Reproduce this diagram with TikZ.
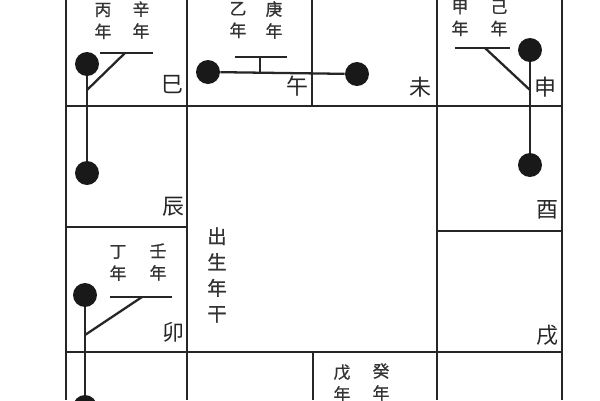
\documentclass[tikz,border=0pt]{standalone}
\usepackage{fontspec}
\newfontfamily\cjk{Noto Sans CJK SC}
\newfontfamily\cjkb{Noto Sans CJK SC}[FakeBold=1.2]
\usepackage{tikz}

\begin{document}
\begin{tikzpicture}[
    x=0.02cm, y=-0.02cm,
    grid/.style={line width=1.4pt, draw=black!85},
    link/.style={line width=1.3pt, draw=black!85},
    dot/.style={circle, fill=black!90, inner sep=0pt, minimum size=0.48cm},
    branch/.style={font=\cjk\fontsize{12.5}{14}\selectfont, text=black!85, inner sep=0pt},
    stems/.style={font=\cjkb\fontsize{9.5}{12.5}\selectfont, text=black!80, align=center, inner sep=0pt},
  ]
  \useasboundingbox (0,0) rectangle (600,400);
  % palace grid
  \draw[grid] (66,0) -- (66,400);
  \draw[grid] (187,0) -- (187,400);
  \draw[grid] (437,0) -- (437,400);
  \draw[grid] (562,0) -- (562,400);
  \draw[grid] (312,0) -- (312,106);
  \draw[grid] (313,352) -- (313,400);
  \draw[grid] (66,106) -- (562,106);
  \draw[grid] (66,227) -- (187,227);
  \draw[grid] (437,231) -- (562,231);
  \draw[grid] (66,352) -- (562,352);

  % earthly branches
  \node[branch] (si) at (172,85) {巳};
  \node[branch] (wu) at (297,86) {午};
  \node[branch] (wei) at (420,87) {未};
  \node[branch] (shen) at (545,87) {申};
  \node[branch] (chen) at (173,207) {辰};
  \node[branch] (you) at (547,210) {酉};
  \node[branch] (mao) at (173,332) {卯};
  \node[branch] (xu) at (547,335) {戌};
  \node[stems, font=\cjkb\fontsize{11}{14.7}\selectfont] (birth) at (217,275) {出\\生\\年\\干};

  % year stems
  \node[stems] (bing) at (103,21) {丙\\年};
  \node[stems] (xin) at (141,20) {辛\\年};
  \node[stems] (yi) at (238,20) {乙\\年};
  \node[stems] (geng) at (274,20) {庚\\年};
  \node[stems] (jia) at (460,18) {甲\\年};
  \node[stems] (ji) at (499,18) {己\\年};
  \node[stems] (ding) at (118,263) {丁\\年};
  \node[stems] (ren) at (158,262) {壬\\年};
  \node[stems] (wuy) at (342,383) {戊\\年};
  \node[stems] (gui) at (381,382) {癸\\年};

  % stars
  \node[dot] (siDot) at (87,64) {};
  \node[dot] (chenDot) at (87,173) {};
  \node[dot] (wuDot) at (208,72) {};
  \node[dot] (weiDot) at (357,74) {};
  \node[dot] (shenDot) at (530,50) {};
  \node[dot] (youDot) at (530,165) {};
  \node[dot] (maoDot) at (85,295) {};
  \node[dot] (yinDot) at (85,407) {};

  % 巳 -- 辰
  \coordinate (siL) at (100,53);
  \coordinate (siR) at (153,53);
  \coordinate (siK) at (125,53);
  \coordinate (siJ) at (87,90);
  \draw[link] (siDot) -- (chenDot);
  \draw[link] (siL) -- (siR);
  \draw[link] (siK) -- (siJ);

  % 午 -- 未
  \coordinate (wuL) at (235,57);
  \coordinate (wuR) at (287,57);
  \coordinate (wuK) at (260,57);
  \draw[link] (wuDot) -- (weiDot);
  \draw[link] (wuL) -- (wuR);
  \draw[link] (wuK) -- (wuK |- 0,73);

  % 申 -- 酉
  \coordinate (shenL) at (455,48);
  \coordinate (shenR) at (510,48);
  \coordinate (shenK) at (485,48);
  \coordinate (shenJ) at (530,90);
  \draw[link] (shenDot) -- (youDot);
  \draw[link] (shenL) -- (shenR);
  \draw[link] (shenK) -- (shenJ);

  % 卯 -- 寅
  \coordinate (maoL) at (110,297);
  \coordinate (maoR) at (172,297);
  \coordinate (maoK) at (142,297);
  \coordinate (maoJ) at (85,335);
  \draw[link] (maoDot) -- (yinDot);
  \draw[link] (maoL) -- (maoR);
  \draw[link] (maoK) -- (maoJ);
\end{tikzpicture}
\end{document}
